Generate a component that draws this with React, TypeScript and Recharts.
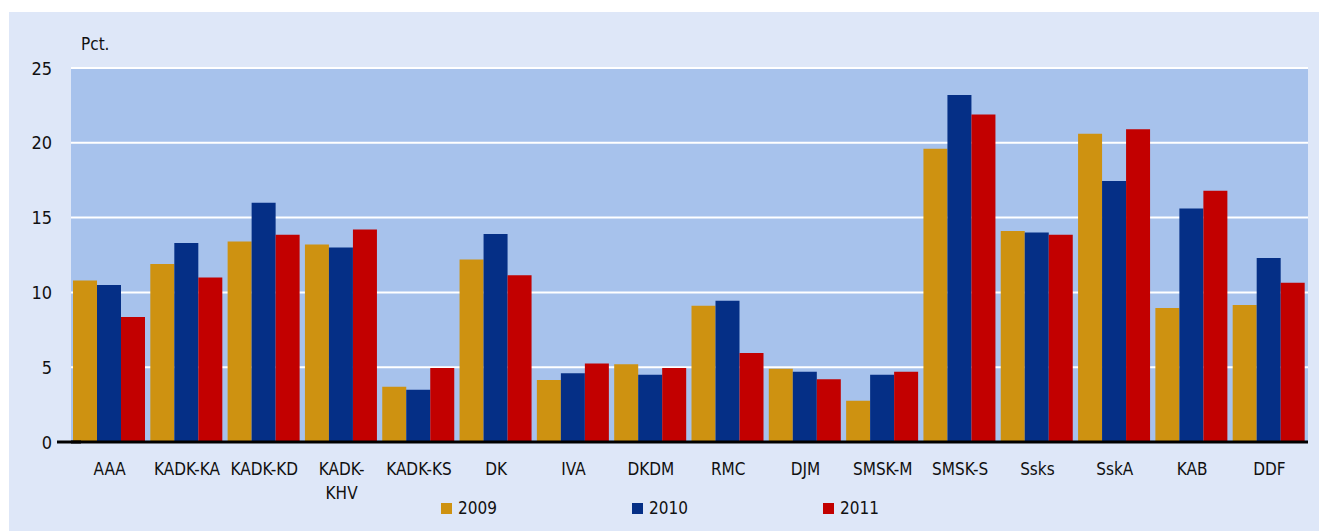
import React from 'react';
import { BarChart, Bar, XAxis, YAxis, CartesianGrid } from 'recharts';

const categories = [
  'AAA', 'KADK-KA', 'KADK-KD', 'KADK-KHV', 'KADK-KS', 'DK', 'IVA', 'DKDM',
  'RMC', 'DJM', 'SMSK-M', 'SMSK-S', 'Ssks', 'SskA', 'KAB', 'DDF',
];
const values2009 = [10.8, 11.9, 13.4, 13.2, 3.7, 12.2, 4.15, 5.2, 9.1, 4.9, 2.75, 19.6, 14.1, 20.6, 8.95, 9.15];
const values2010 = [10.5, 13.3, 16.0, 13.0, 3.5, 13.9, 4.6, 4.5, 9.45, 4.7, 4.5, 23.2, 14.0, 17.45, 15.6, 12.3];
const values2011 = [8.35, 11.0, 13.85, 14.2, 4.95, 11.15, 5.25, 4.95, 5.95, 4.2, 4.7, 21.9, 13.85, 20.9, 16.8, 10.65];
const yTicks = [0, 5, 10, 15, 20, 25];
const seriesKeys = ['v2009', 'v2010', 'v2011'];
const seriesNames = ['2009', '2010', '2011'];
const seriesColors = ['#CE9211', '#052F86', '#C20000'];

const data = categories.map((name, i) => ({
  name,
  v2009: values2009[i],
  v2010: values2010[i],
  v2011: values2011[i],
}));

const FONT = '"DejaVu Sans Condensed", "Liberation Sans Narrow", "Roboto", sans-serif';

// y ticks: number right-aligned, plus the short black stub at zero
const YTick = (props: any) => {
  const { x, y, payload } = props;
  return (
    <g>
      <text x={x - 19} y={y} textAnchor="end" dominantBaseline="central" fontSize={18} fontFamily={FONT} fill="#111">
        {payload.value}
      </text>
      {payload.value === 0 && <line x1={x - 14} x2={x + 10} y1={y} y2={y} stroke="#000" strokeWidth={3} />}
    </g>
  );
};

// long labels break after the hyphen
const XTick = (props: any) => {
  const { x, y, payload } = props;
  const label: string = payload.value;
  const lines = label.length > 7 && label.includes('-')
    ? [label.slice(0, label.indexOf('-') + 1), label.slice(label.indexOf('-') + 1)]
    : [label];
  return (
    <g>
      {lines.map((l, i) => (
        <text key={i} x={x} y={y + 31 + i * 24} textAnchor="middle" fontSize={17} fontFamily={FONT} fill="#111">
          {l}
        </text>
      ))}
    </g>
  );
};

export default function App() {
  return (
    <div style={{ position: 'absolute', left: 0, top: 0, width: 1319, height: 531, background: '#fff' }}>
      <div style={{ position: 'absolute', left: 9, top: 12, width: 1310, height: 519, background: '#DEE7F8' }}>
        <div style={{ position: 'absolute', left: 72, top: 22, fontFamily: FONT, fontSize: 17, color: '#111' }}>Pct.</div>
        <BarChart
          width={1310}
          height={519}
          data={data}
          margin={{ top: 56, right: 11, bottom: 0, left: 0 }}
          barCategoryGap={2}
          barGap={0}
        >
          <CartesianGrid vertical={false} stroke="#fff" strokeWidth={2} fill="#A7C2EC" fillOpacity={1} />
          <XAxis
            dataKey="name"
            height={89}
            interval={0}
            tickLine={false}
            tickSize={0}
            axisLine={{ stroke: '#000', strokeWidth: 3 }}
            tick={<XTick />}
          />
          <YAxis
            width={62}
            domain={[0, 25]}
            ticks={yTicks}
            axisLine={false}
            tickLine={false}
            tickSize={0}
            tickMargin={0}
            tick={<YTick />}
          />
          {seriesKeys.map((k, i) => (
            <Bar key={k} dataKey={k} name={seriesNames[i]} fill={seriesColors[i]} isAnimationActive={false} />
          ))}
        </BarChart>
        <div style={{ position: 'absolute', left: 432, top: 486, display: 'flex' }}>
          {seriesNames.map((n, i) => (
            <div key={n} style={{ width: 191, display: 'flex', alignItems: 'center', fontFamily: FONT, fontSize: 17, color: '#111' }}>
              <span style={{ width: 11, height: 11, background: seriesColors[i], marginRight: 6, display: 'inline-block' }} />
              {n}
            </div>
          ))}
        </div>
      </div>
    </div>
  );
}
